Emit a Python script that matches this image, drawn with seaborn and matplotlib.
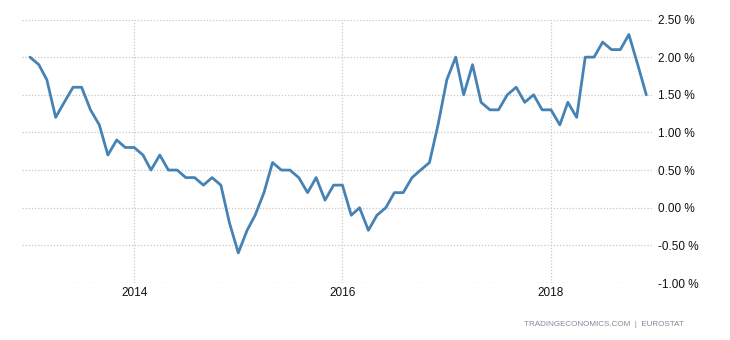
import matplotlib
matplotlib.use("Agg")
import matplotlib.pyplot as plt
import matplotlib.ticker as mticker
import seaborn as sns
import pandas as pd

start_month = "2013-01-01"
values_2013 = [2.0, 1.9, 1.7, 1.2, 1.4, 1.6, 1.6, 1.3, 1.1, 0.7, 0.9, 0.8]
values_2014 = [0.8, 0.7, 0.5, 0.7, 0.5, 0.5, 0.4, 0.4, 0.3, 0.4, 0.3, -0.2]
values_2015 = [-0.6, -0.3, -0.1, 0.2, 0.6, 0.5, 0.5, 0.4, 0.2, 0.4, 0.1, 0.3]
values_2016 = [0.3, -0.1, 0.0, -0.3, -0.1, 0.0, 0.2, 0.2, 0.4, 0.5, 0.6, 1.1]
values_2017 = [1.7, 2.0, 1.5, 1.9, 1.4, 1.3, 1.3, 1.5, 1.6, 1.4, 1.5, 1.3]
values_2018 = [1.3, 1.1, 1.4, 1.2, 2.0, 2.0, 2.2, 2.1, 2.1, 2.3, 1.9, 1.5]
x_tick_years = ["2014", "2016", "2018"]
y_ticks = [-1.0, -0.5, 0.0, 0.5, 1.0, 1.5, 2.0, 2.5]
source_text = "TRADINGECONOMICS.COM  |  EUROSTAT"

values = values_2013 + values_2014 + values_2015 + values_2016 + values_2017 + values_2018
dates = pd.date_range(start_month, periods=len(values), freq="MS")
df = pd.DataFrame({"date": dates, "value": values})

sns.set_theme(style="white")
plt.rcParams["font.family"] = ["Liberation Sans", "DejaVu Sans"]

fig = plt.figure(figsize=(7.3, 3.4), dpi=100)
ax = fig.add_axes([22 / 730, 1 - 283 / 340, (652 - 22) / 730, (283 - 19.5) / 340])

sns.lineplot(data=df, x="date", y="value", ax=ax, color="#4682b4", linewidth=2.0)

ax.set_xlim(pd.Timestamp("2012-12-04"), pd.Timestamp("2018-12-21"))
ax.set_ylim(-1.0, 2.5)
ax.set_xticks([pd.Timestamp(f"{y}-01-01") for y in x_tick_years])
ax.set_xticklabels(x_tick_years)
ax.set_yticks(y_ticks)
ax.yaxis.set_major_formatter(mticker.FuncFormatter(lambda v, p: f"{v:.2f} %"))
ax.yaxis.tick_right()
ax.set_xlabel("")
ax.set_ylabel("")

ax.grid(True, axis="y", color="#c8c8c8", linestyle=(0, (1, 1.5)), linewidth=0.9)
ax.grid(True, axis="x", color="#c8c8c8", linestyle=(0, (1, 1.5)), linewidth=0.9)
for s in ax.spines.values():
    s.set_visible(False)
ax.tick_params(axis="both", length=0, labelsize=8.5, colors="#111111")
ax.tick_params(axis="y", pad=4)
ax.tick_params(axis="x", pad=3)
for lbl in ax.get_yticklabels():
    lbl.set_horizontalalignment("left")

fig.text(684 / 730, 1 - 325 / 340, source_text, ha="right", va="center",
         fontsize=5.8, color="#8a8496")

fig.savefig("out.png", dpi=100, facecolor="white")
